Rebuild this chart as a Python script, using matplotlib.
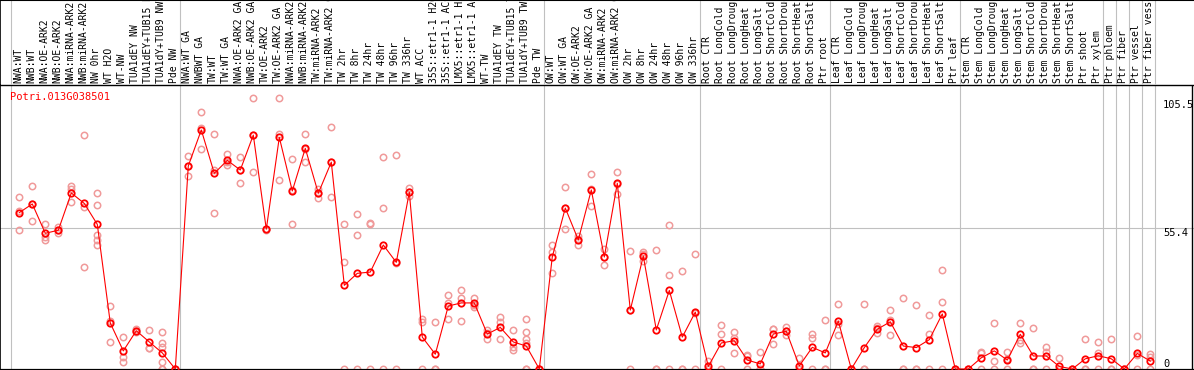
import numpy as np
import matplotlib
matplotlib.use("Agg")
import matplotlib.pyplot as plt

plt.rcParams['font.family'] = ['DejaVu Sans Mono']

gene = "Potri.013G038501"

labels = [
    # NW
    "NWA:WT", "NWB:WT", "NWA:OE-ARK2", "NWB:OE-ARK2", "NWA:miRNA-ARK2", "NWB:miRNA-ARK2",
    "NW 0hr", "WT H2O", "WT-NW", "TUA1dEY NW", "TUA1dEY+TUB15 NW", "TUA1dY+TUB9 NW", "Pde NW",
    # TW
    "NWA:WT GA", "NWBWT GA", "TW:WT", "TW:WT GA", "NWA:OE-ARK2 GA", "NWB:OE-ARK2 GA",
    "TW:OE-ARK2", "TW:OE-ARK2 GA", "NWA:miRNA-ARK2 GA", "NWB:miRNA-ARK2 GA", "TW:miRNA-ARK2",
    "TW:miRNA-ARK2 GA", "TW 2hr", "TW 8hr", "TW 24hr", "TW 48hr", "TW 96hr", "TW 336hr", "WT ACC",
    "35S::etr1-1 H2O", "35S::etr1-1 ACC", "LMX5::etr1-1 H2O", "LMX5::etr1-1 ACC", "WT-TW",
    "TUA1dEY TW", "TUA1dEY+TUB15 TW", "TUA1dY+TUB9 TW", "Pde TW",
    # OW
    "OW:WT", "OW:WT GA", "OW:OE-ARK2", "OW:OE-ARK2 GA", "OW:miRNA-ARK2", "OW:miRNA-ARK2 GA",
    "OW 2hr", "OW 8hr", "OW 24hr", "OW 48hr", "OW 96hr", "OW 336hr",
    # root
    "Root CTR", "Root LongCold", "Root LongDrought", "Root LongHeat", "Root LongSalt",
    "Root ShortCold", "Root ShortDrought", "Root ShortHeat", "Root ShortSalt", "Ptr root",
    # leaf
    "Leaf CTR", "Leaf LongCold", "Leaf LongDrought", "Leaf LongHeat", "Leaf LongSalt",
    "Leaf ShortCold", "Leaf ShortDrought", "Leaf ShortHeat", "Leaf ShortSalt", "Ptr leaf",
    # stem
    "Stem CTR", "Stem LongCold", "Stem LongDrought", "Stem LongHeat", "Stem LongSalt",
    "Stem ShortCold", "Stem ShortDrought", "Stem ShortHeat", "Stem ShortSalt", "Ptr shoot",
    "Ptr xylem",
    "Ptr phloem", "Ptr fiber", "Ptr vessel", "Ptr fiber vessel",
]

# first sample index of each group (last entry = total)
group_starts = [0, 13, 41, 53, 63, 73, 84, 85, 86, 87, 88]

means = [
    61.3, 64.7, 53.2, 54.4, 69.0, 64.9, 56.7, 18.0, 7.1, 15.0, 10.6, 6.3, 0.0,
    79.6, 93.7, 76.7, 81.8, 78.0, 91.7, 54.8, 90.8, 69.8, 86.5, 68.9, 81.1, 32.8, 37.5,
    38.0, 48.6, 41.8, 69.3, 12.5, 5.8, 24.7, 25.9, 25.9, 13.7, 16.3, 10.6, 9.0, 0.0,
    44.0, 63.1, 50.6, 70.2, 43.9, 72.8, 23.1, 44.3, 15.3, 30.8, 12.5, 22.3,
    1.0, 10.2, 11.1, 3.5, 2.0, 13.7, 14.8, 1.2, 8.5, 6.3,
    18.8, 0.0, 8.4, 15.6, 18.5, 9.0, 8.4, 11.5, 21.6, 0.0,
    0.0, 4.4, 7.1, 3.5, 13.6, 5.1, 5.1, 1.0, 0.0, 4.0, 5.2,
    4.0, 0.0, 6.1, 3.1,
]

reps = [
    [67.5, 62.1, 54.5], [71.6, 58.0, 64.5], [56.7, 51.9, 50.6], [55.5, 54.4, 53.5],
    [71.9, 70.7, 65.5], [91.6, 63.4, 40.0], [68.9, 64.2, 52.4, 50.6, 48.5],
    [24.6, 18.8, 10.6], [12.4, 4.8, 2.9], [15.5, 15.0, 14.5], [15.3, 8.1, 8.4],
    [14.4, 10.1, 8.7, 2.9, 0.0, 0.0], [0.0, 0.0, 0.0],
    [83.5, 79.6, 75.7], [100.6, 86.1, 94.4], [92.0, 78.0, 61.0], [84.4, 80.0, 81.0],
    [83.0, 72.9, 78.0], [106.2, 77.1, 91.8], [55.0, 54.6, 54.8], [106.2, 74.0, 92.2],
    [82.3, 56.8, 70.3], [92.1, 81.1, 86.3], [70.5, 67.1, 69.0], [94.9, 67.3, 81.1],
    [56.7, 41.8, 0.0], [60.6, 52.4, 0.0], [57.4, 56.9, 0.0], [83.0, 63.1, 0.0],
    [83.8, 41.6, 0.0], [70.8, 67.7, 69.3], [19.7, 18.3, 0.0], [18.3, 0.0, 0.0],
    [28.9, 19.5, 25.7], [30.8, 27.7, 18.8], [27.7, 25.2, 24.3], [15.3, 11.6, 14.2],
    [20.4, 18.3, 11.8], [15.3, 8.8, 7.6], [19.5, 14.4, 11.6, 10.3, 0.0, 0.0], [0.0, 0.0, 0.0],
    [48.5, 37.5, 46.0], [71.2, 54.8, 63.3], [52.3, 48.5, 51.0], [76.4, 63.8, 70.4],
    [47.2, 40.6, 43.9], [77.2, 68.5, 72.7], [46.1, 23.2, 0.0], [45.7, 45.0, 42.2],
    [46.5, 0.0, 0.0], [56.3, 36.7, 0.0], [38.3, 0.0, 0.0], [45.0, 21.9, 0.0],
    [3.0, 0.0, 0.0], [17.1, 13.6, 0.0], [14.4, 12.0, 6.1], [5.5, 5.0, 0.0],
    [6.5, 0.0, 0.0], [15.7, 15.7, 9.7], [16.6, 14.8, 13.3], [4.2, 0.0, 0.0],
    [13.7, 12.0, 0.0], [19.1, 0.0, 0.0],
    [25.5, 17.7, 13.2], [0.0, 0.0, 0.0], [25.5, 0.0, 0.0], [16.9, 15.9, 14.0],
    [23.1, 19.1, 13.3], [27.7, 0.0, 0.0], [25.2, 0.0, 0.0], [21.2, 13.6, 0.0],
    [38.8, 26.3, 0.0], [0.0, 0.0, 0.0],
    [0.0, 0.0, 0.0], [6.8, 6.1, 0.0], [18.2, 3.1, 0.0], [6.5, 3.9, 0.0],
    [18.2, 11.4, 10.1], [16.1, 0.0, 0.0], [8.7, 6.8, 0.0], [4.4, 0.0, 0.0],
    [0.0, 0.0, 0.0], [11.8, 0.0, 0.0], [10.6, 6.4, 0.0],
    [11.8, 0.0, 0.0], [0.0, 0.0, 0.0], [12.9, 5.5, 0.0], [5.8, 4.8, 0.0],
]

right_ticks = [105.5, 55.4, 0]

# --- layout (pixels) ---
W, H = 1194, 370
head_h = 85
x0_px, step_px = 19.3, 13.0
px_per_unit = 2.551
zero_px = 369  # y of value 0, from top

fig = plt.figure(figsize=(W / 100, H / 100), dpi=100)
ax = fig.add_axes([0, 0, 1, (H - head_h) / H])
hx = fig.add_axes([0, (H - head_h) / H, 1, head_h / H])

xlim = (-x0_px / step_px, (W - x0_px) / step_px)
for a in (ax, hx):
    a.set_xlim(*xlim)
    a.set_xticks([])
    a.set_yticks([])
    a.patch.set_alpha(0)
ax.set_ylim(-(H - zero_px) / px_per_unit, (zero_px - head_h) / px_per_unit)
hx.set_ylim(0, head_h)

grey = '#c0c0c0'
for k in group_starts:
    for a in (ax, hx):
        a.axvline(k - 0.64, color=grey, lw=0.8, zorder=1)
ax.axhline(right_ticks[1], color=grey, lw=0.8, zorder=1)

x = np.arange(len(means))

# replicates
rx = np.concatenate([[i] * len(r) for i, r in enumerate(reps)])
ry = np.concatenate(reps)
ax.plot(rx, ry, 'o', ls='none', ms=4.6, mfc='none', mec='#f09a9a', mew=1.1, zorder=2)

# means
ax.plot(x, means, color='red', lw=0.8, marker='o', ms=4.6, mfc='none', mec='red',
        mew=1.3, zorder=3)

# spines
for name, s in ax.spines.items():
    s.set_color('black')
ax.spines['bottom'].set_linewidth(1.6)
ax.spines['left'].set_linewidth(1.2)
ax.spines['top'].set_linewidth(1.0)
ax.spines['right'].set_visible(False)
ax.axvline((1192 - x0_px) / step_px, color='black', lw=1.0, zorder=4)
hx.spines['bottom'].set_visible(False)
hx.spines['right'].set_visible(False)
hx.spines['top'].set_linewidth(1.5)
hx.spines['left'].set_linewidth(1.2)

# column labels
for i, lab in enumerate(labels):
    hx.text(i - 0.1, 1.7, lab, rotation=90, ha='center', va='bottom', fontsize=7,
            color='black', clip_on=True)

# right value labels
rx_frac = 1163 / W
ax.text(rx_frac, right_ticks[0], f"{right_ticks[0]}", transform=ax.get_yaxis_transform(),
        ha='left', va='top', fontsize=7.5)
ax.text(rx_frac, right_ticks[1], f"{right_ticks[1]}", transform=ax.get_yaxis_transform(),
        ha='left', va='top', fontsize=7.5)
ax.text(rx_frac, right_ticks[2], f"{right_ticks[2]}", transform=ax.get_yaxis_transform(),
        ha='left', va='bottom', fontsize=7.5)

ax.text(10 / W, (H - 97) / (H - head_h), gene, transform=ax.transAxes, ha='left',
        va='center', fontsize=7.5, color='red')

fig.savefig('out.png', dpi=100)
